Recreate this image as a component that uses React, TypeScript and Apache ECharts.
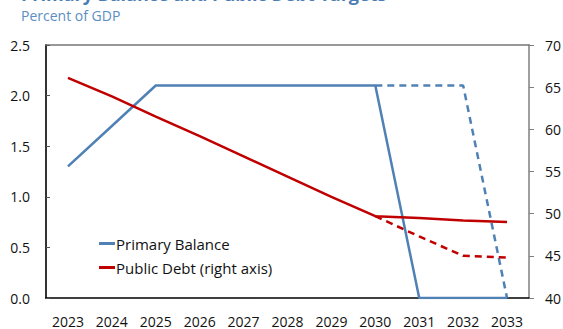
import React, { useEffect, useRef } from "react";
import * as echarts from "echarts";

const years = ["2023", "2024", "2025", "2026", "2027", "2028", "2029", "2030", "2031", "2032", "2033"];
const primaryBalance = [1.3, 1.7, 2.1, 2.1, 2.1, 2.1, 2.1, 2.1, 0, 0, 0];
const primaryBalanceAlt = [null, null, null, null, null, null, null, 2.1, 2.1, 2.1, 0];
const publicDebt = [66.1, 63.9, 61.5, 59.2, 56.8, 54.4, 52.0, 49.7, 49.5, 49.2, 49.0];
const publicDebtAlt = [null, null, null, null, null, null, null, 49.7, 47.3, 45.0, 44.8];

const BLUE = "#4f81b5";
const RED = "#c00000";
const FONT = "Open Sans";

export default function App() {
  const ref = useRef<HTMLDivElement>(null);
  useEffect(() => {
    if (!ref.current) return;
    const chart = echarts.init(ref.current, undefined, { renderer: "svg" });
    chart.setOption({
      animation: false,
      textStyle: { fontFamily: FONT },
      title: [
        {
          text: "Primary Balance and Public Debt Targets",
          left: 21,
          top: -15,
          padding: 0,
          textStyle: { fontSize: 18, fontWeight: "bold", color: "#4a7db3", fontFamily: FONT },
        },
        {
          text: "Percent of GDP",
          left: 21,
          top: 8,
          padding: 0,
          textStyle: { fontSize: 14, fontWeight: "normal", color: "#5b8ec2", fontFamily: FONT },
        },
      ],
      legend: {
        orient: "vertical",
        left: 99,
        top: 234,
        itemGap: 5,
        itemWidth: 16,
        itemHeight: 3,
        icon: "rect",
        padding: 0,
        data: ["Primary Balance", "Public Debt (right axis)"],
        textStyle: { fontSize: 15, color: "#111", fontFamily: FONT, padding: [0, 0, 0, -4], lineHeight: 19 },
      },
      grid: { left: 46, right: 34, top: 45, bottom: 31, containLabel: false, outerBoundsMode: "none" },
      xAxis: [
        {
          type: "category",
          data: years,
          boundaryGap: true,
          position: "bottom",
          axisLine: { lineStyle: { color: "#000", width: 1.5 } },
          axisTick: { inside: true, length: 5, lineStyle: { color: "#555" } },
          axisLabel: { fontSize: 14, color: "#111", margin: 16, fontFamily: FONT },
          splitLine: { show: false },
        },
        {
          type: "category",
          data: years,
          position: "top",
          axisLine: { lineStyle: { color: "#777", width: 1.5 } },
          axisTick: { show: false },
          axisLabel: { show: false },
          splitLine: { show: false },
        },
      ],
      yAxis: [
        {
          type: "value",
          min: 0,
          max: 2.5,
          interval: 0.5,
          position: "left",
          axisLine: { show: true, lineStyle: { color: "#333", width: 2 } },
          axisTick: { show: true, inside: true, length: 4, lineStyle: { color: "#555" } },
          axisLabel: { fontSize: 14, color: "#111", margin: 16, formatter: (v: number) => v.toFixed(1), fontFamily: FONT },
          splitLine: { show: false },
        },
        {
          type: "value",
          min: 40,
          max: 70,
          interval: 5,
          position: "right",
          axisLine: { show: true, lineStyle: { color: "#7f7f7f", width: 1.5 } },
          axisTick: { show: true, inside: false, length: 5, lineStyle: { color: "#7f7f7f" } },
          axisLabel: { fontSize: 14, color: "#111", margin: 16, fontFamily: FONT },
          splitLine: { show: false },
        },
      ],
      series: [
        {
          name: "Primary Balance (alt)",
          type: "line",
          yAxisIndex: 0,
          data: primaryBalanceAlt,
          symbol: "none",
          lineStyle: { color: BLUE, width: 2.5, type: [7, 5] },
          itemStyle: { color: BLUE },
        },
        {
          name: "Public Debt (alt)",
          type: "line",
          yAxisIndex: 1,
          data: publicDebtAlt,
          symbol: "none",
          lineStyle: { color: RED, width: 2.5, type: [7, 5] },
          itemStyle: { color: RED },
        },
        {
          name: "Primary Balance",
          type: "line",
          yAxisIndex: 0,
          data: primaryBalance,
          symbol: "none",
          lineStyle: { color: BLUE, width: 2.5 },
          itemStyle: { color: BLUE },
        },
        {
          name: "Public Debt (right axis)",
          type: "line",
          yAxisIndex: 1,
          data: publicDebt,
          symbol: "none",
          lineStyle: { color: RED, width: 2.5 },
          itemStyle: { color: RED },
        },
      ],
    });
    return () => chart.dispose();
  }, []);
  return <div ref={ref} style={{ width: 563, height: 329, position: "absolute", left: 0, top: 0 }} />;
}
